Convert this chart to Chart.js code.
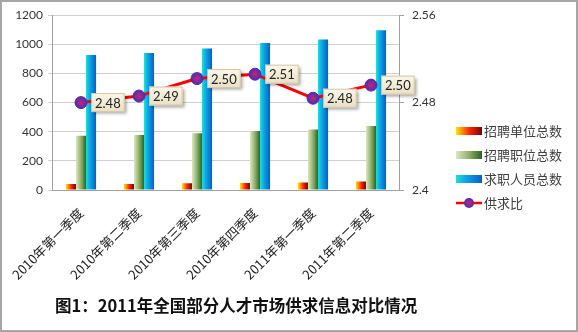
<!DOCTYPE html>
<html>
<head>
<meta charset="utf-8">
<script src="https://cdn.jsdelivr.net/npm/chart.js@4.4.1/dist/chart.umd.min.js"></script>
<style>
body { margin: 0; background: #fff; }
#wrap { position: relative; width: 578px; height: 332px; }
#frame { position: absolute; left: 0; top: 0; width: 578px; height: 332px; box-sizing: border-box; border: 2px solid #a6a6a6; pointer-events: none; }
#title { position: absolute; left: 55px; top: 295px; font: bold 16.5px "Noto Sans CJK SC"; line-height: 20px; color: #111; white-space: nowrap; }
</style>
</head>
<body>
<div id="wrap">
  <canvas id="c" width="578" height="332"></canvas>
  <div id="title">图1：2011年全国部分人才市场供求信息对比情况</div>
  <div id="frame"></div>
</div>
<script>
const quarters = ['2010年第一季度', '2010年第二季度', '2010年第三季度', '2010年第四季度', '2011年第一季度', '2011年第二季度'];
const unitTotals = [42, 42, 46, 48, 52, 58];
const postTotals = [372, 377, 389, 405, 416, 439];
const seekerTotals = [926, 941, 972, 1010, 1033, 1097];
const ratio = [2.480, 2.486, 2.502, 2.506, 2.484, 2.496];
const seriesNames = ['招聘单位总数', '招聘职位总数', '求职人员总数', '供求比'];

// horizontal gradients for the three bar series
const barStops = [
  [[0, '#ffe600'], [0.5, '#ff2a00'], [1, '#780000']],
  [[0, '#dde8c6'], [0.5, '#8fb06a'], [1, '#2a6420']],
  [[0, '#1fe0d0'], [0.35, '#10a8e8'], [1, '#0062c8']]
];

function swatch(stops) {
  const c = document.createElement('canvas');
  c.width = 26; c.height = 8;
  const x = c.getContext('2d');
  const g = x.createLinearGradient(0, 0, 26, 0);
  stops.forEach(s => g.addColorStop(s[0], s[1]));
  x.fillStyle = g;
  x.fillRect(0, 0, 26, 8);
  return c;
}
function dotGrad(ctx, cx, cy, r) {
  const g = ctx.createRadialGradient(cx, cy, 0, cx, cy, r);
  g.addColorStop(0, '#d0206a');
  g.addColorStop(0.5, '#862a98');
  g.addColorStop(1, '#4f2cb0');
  return g;
}
function lineSwatch() {
  const c = document.createElement('canvas');
  c.width = 26; c.height = 12;
  const x = c.getContext('2d');
  x.strokeStyle = '#ff0000'; x.lineWidth = 2.5;
  x.beginPath(); x.moveTo(0, 6); x.lineTo(26, 6); x.stroke();
  x.fillStyle = dotGrad(x, 13, 6, 5);
  x.beginPath(); x.arc(13, 6, 5, 0, Math.PI * 2); x.fill();
  return c;
}
const swatches = [swatch(barStops[0]), swatch(barStops[1]), swatch(barStops[2]), lineSwatch()];

const shadePlugin = {
  id: 'shade',
  beforeDatasetsDraw(chart) {
    const ctx = chart.ctx;
    chart.data.datasets.forEach((ds, i) => {
      const meta = chart.getDatasetMeta(i);
      meta.data.forEach(el => {
        let g;
        if (meta.type === 'bar') {
          g = ctx.createLinearGradient(el.x - el.width / 2, 0, el.x + el.width / 2, 0);
          barStops[i].forEach(s => g.addColorStop(s[0], s[1]));
        } else {
          g = dotGrad(ctx, el.x, el.y, 6);
        }
        el.options = Object.assign({}, el.options, { backgroundColor: g });
      });
    });
  }
};

const tagPlugin = {
  id: 'tags',
  afterDatasetsDraw(chart) {
    const ctx = chart.ctx;
    const meta = chart.getDatasetMeta(3);
    ctx.save();
    ctx.font = '13px Lato';
    meta.data.forEach((pt, i) => {
      const txt = ratio[i].toFixed(2);
      const w = ctx.measureText(txt).width + 8, h = 19;
      const x = pt.x + 10, y = pt.y - h / 2;
      ctx.shadowColor = 'rgba(0,0,0,0.35)';
      ctx.shadowOffsetX = 2; ctx.shadowOffsetY = 2; ctx.shadowBlur = 3;
      const g = ctx.createLinearGradient(0, y, 0, y + h);
      g.addColorStop(0, '#fbf7ea');
      g.addColorStop(1, '#e8dfc4');
      ctx.fillStyle = g;
      ctx.fillRect(x, y, w, h);
      ctx.shadowColor = 'transparent';
      ctx.strokeStyle = '#d3c7a3'; ctx.lineWidth = 1;
      ctx.strokeRect(x + 0.5, y + 0.5, w - 1, h - 1);
      ctx.fillStyle = '#222';
      ctx.textAlign = 'center'; ctx.textBaseline = 'middle';
      ctx.fillText(txt, x + w / 2, pt.y + 1);
    });
    ctx.restore();
  }
};

const barDefaults = { type: 'bar', yAxisID: 'y', order: 2, categoryPercentage: 0.52, barPercentage: 1, borderWidth: 0 };

new Chart(document.getElementById('c'), {
  type: 'bar',
  data: {
    labels: quarters,
    datasets: [
      { ...barDefaults, label: seriesNames[0], data: unitTotals, backgroundColor: '#ff4000' },
      { ...barDefaults, label: seriesNames[1], data: postTotals, backgroundColor: '#6a9a40' },
      { ...barDefaults, label: seriesNames[2], data: seekerTotals, backgroundColor: '#1090e0' },
      { type: 'line', label: seriesNames[3], data: ratio, yAxisID: 'y1', order: 0,
        borderColor: '#ff0000', borderWidth: 3, tension: 0,
        pointRadius: 6, pointBorderWidth: 1, pointBorderColor: '#4f2cb0', pointBackgroundColor: '#7a2590' }
    ]
  },
  options: {
    responsive: false,
    animation: false,
    events: [],
    layout: { padding: { left: 0, right: 6, top: 15, bottom: 13 } },
    plugins: {
      tooltip: { enabled: false },
      legend: {
        position: 'right',
        maxWidth: 160,
        labels: {
          usePointStyle: true,
          pointStyleWidth: 17,
          padding: 11,
          color: '#404040',
          font: { size: 13, family: 'Noto Sans CJK SC' },
          generateLabels: () => seriesNames.map((n, i) => ({
            text: n, pointStyle: swatches[i], datasetIndex: i, hidden: false,
            lineWidth: 0, strokeStyle: 'rgba(0,0,0,0)', fillStyle: 'rgba(0,0,0,0)', fontColor: '#404040'
          }))
        }
      }
    },
    scales: {
      x: {
        grid: { display: false },
        border: { color: '#a0a0a0' },
        ticks: { minRotation: 45, maxRotation: 45, autoSkip: false, padding: 7, color: '#222',
                 font: { size: 13, family: 'Noto Sans CJK SC' } },
        afterFit(s) { s.height = 129; }
      },
      y: {
        position: 'left', min: 0, max: 1200,
        ticks: { stepSize: 200, padding: 5, color: '#333', font: { size: 12, family: 'Lato' },
                 callback: v => String(v) },
        grid: { color: '#cfcfcf', tickLength: 4 },
        border: { color: '#a0a0a0' },
        afterFit(s) { s.width = 52; }
      },
      y1: {
        position: 'right', min: 2.4, max: 2.56,
        ticks: { stepSize: 0.08, padding: 8, color: '#333', font: { size: 12, family: 'Lato' },
                 callback: v => String(+v.toFixed(2)) },
        grid: { drawOnChartArea: false, tickLength: 4, color: '#a0a0a0' },
        border: { color: '#a0a0a0' },
        afterFit(s) { s.width = 49.5; }
      }
    }
  },
  plugins: [shadePlugin, tagPlugin]
});
</script>
</body>
</html>
